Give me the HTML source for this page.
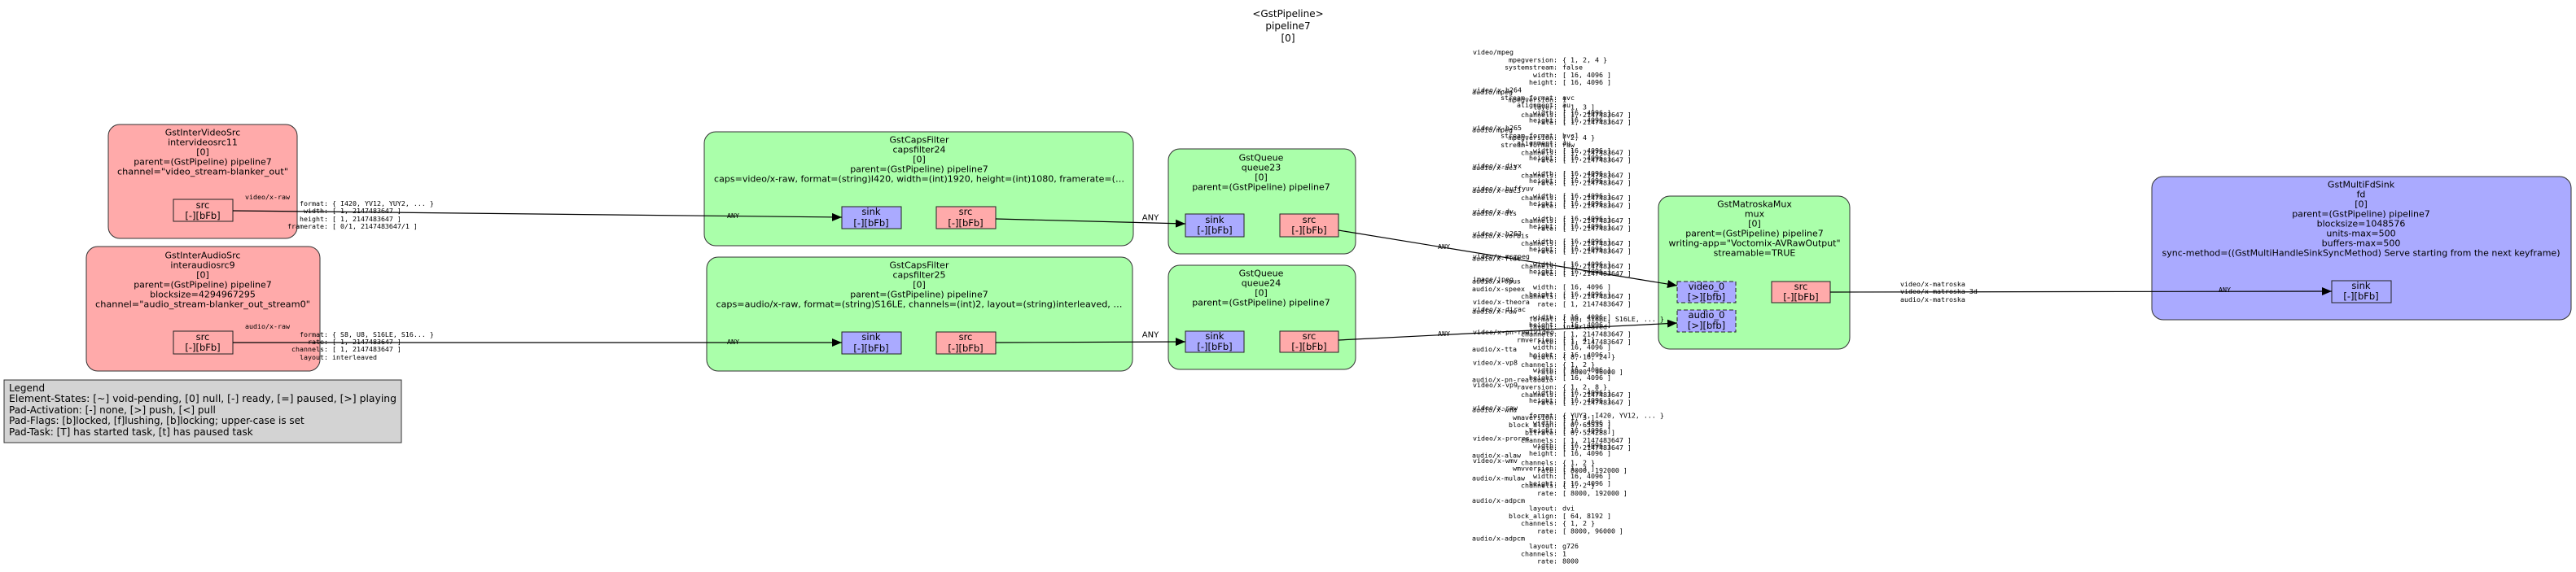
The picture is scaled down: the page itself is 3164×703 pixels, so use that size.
<!DOCTYPE html>
<html><head><meta charset="utf-8"><style>
html,body{margin:0;padding:0;background:#fff;}
svg{display:block;}
.t{font-family:"DejaVu Sans","Liberation Sans",sans-serif;font-size:11px;fill:#000;text-anchor:middle;dominant-baseline:central;}
.p{font-family:"DejaVu Sans","Liberation Sans",sans-serif;font-size:11.5px;fill:#000;text-anchor:middle;dominant-baseline:central;}
.lg{font-family:"DejaVu Sans","Liberation Sans",sans-serif;font-size:12px;fill:#000;dominant-baseline:central;}
.m{font-family:"DejaVu Sans Mono","Liberation Mono",monospace;font-size:8.3px;fill:#000;dominant-baseline:central;}
.k{font-family:"DejaVu Sans Mono","Liberation Mono",monospace;font-size:8.3px;fill:#000;dominant-baseline:central;text-anchor:end;}
.a{font-family:"DejaVu Sans","Liberation Sans",sans-serif;font-size:10px;fill:#000;text-anchor:middle;dominant-baseline:central;}
</style></head><body>
<svg width="3164" height="703" viewBox="0 0 3164 703" xmlns="http://www.w3.org/2000/svg">
<defs><marker id="ar" markerWidth="12" markerHeight="10" refX="12" refY="5" orient="auto" markerUnits="userSpaceOnUse"><path d="M0,0 L12,5 L0,10 z" fill="#000"/></marker></defs>

<!-- title -->
<text class="t" style="font-size:12px" x="1582" y="17">&lt;GstPipeline&gt;</text>
<text class="t" style="font-size:12px" x="1582" y="32">pipeline7</text>
<text class="t" style="font-size:12px" x="1582" y="47">[0]</text>

<!-- GstInterVideoSrc -->
<rect x="133" y="153" width="232" height="140" rx="14" fill="#ffaaaa" stroke="#333"/>
<text class="t" x="249" y="163">GstInterVideoSrc</text>
<text class="t" x="249" y="175">intervideosrc11</text>
<text class="t" x="249" y="187">[0]</text>
<text class="t" x="249" y="199">parent=(GstPipeline) pipeline7</text>
<text class="t" x="249" y="211" textLength="210" lengthAdjust="spacingAndGlyphs">channel="video_stream-blanker_out"</text>
<rect x="213" y="245" width="73" height="27" fill="#ffaaaa" stroke="#222"/>
<text class="p" x="249" y="252">src</text>
<text class="p" x="249" y="265">[-][bFb]</text>

<!-- GstInterAudioSrc -->
<rect x="106" y="303" width="287" height="153" rx="14" fill="#ffaaaa" stroke="#333"/>
<text class="t" x="249" y="314">GstInterAudioSrc</text>
<text class="t" x="249" y="326">interaudiosrc9</text>
<text class="t" x="249" y="338">[0]</text>
<text class="t" x="249" y="350">parent=(GstPipeline) pipeline7</text>
<text class="t" x="249" y="362">blocksize=4294967295</text>
<text class="t" x="249" y="374" textLength="264" lengthAdjust="spacingAndGlyphs">channel="audio_stream-blanker_out_stream0"</text>
<rect x="213" y="407" width="73" height="28" fill="#ffaaaa" stroke="#222"/>
<text class="p" x="249" y="414">src</text>
<text class="p" x="249" y="427">[-][bFb]</text>

<!-- Legend -->
<rect x="5" y="467" width="488" height="77" fill="#d3d3d3" stroke="#333"/>
<text class="lg" x="11" y="477">Legend</text>
<text class="lg" x="11" y="490" textLength="476" lengthAdjust="spacingAndGlyphs">Element-States: [~] void-pending, [0] null, [-] ready, [=] paused, [&gt;] playing</text>
<text class="lg" x="11" y="504">Pad-Activation: [-] none, [&gt;] push, [&lt;] pull</text>
<text class="lg" x="11" y="517">Pad-Flags: [b]locked, [f]lushing, [b]locking; upper-case is set</text>
<text class="lg" x="11" y="531">Pad-Task: [T] has started task, [t] has paused task</text>

<!-- capsfilter24 -->
<rect x="865" y="162" width="527" height="140" rx="14" fill="#aaffaa" stroke="#333"/>
<text class="t" x="1129" y="172">GstCapsFilter</text>
<text class="t" x="1129" y="184">capsfilter24</text>
<text class="t" x="1129" y="196">[0]</text>
<text class="t" x="1129" y="208">parent=(GstPipeline) pipeline7</text>
<text class="t" x="1129" y="220" textLength="504" lengthAdjust="spacingAndGlyphs">caps=video/x-raw, format=(string)I420, width=(int)1920, height=(int)1080, framerate=(…</text>
<rect x="1034" y="254" width="73" height="27" fill="#aaaaff" stroke="#222"/>
<text class="p" x="1070" y="260">sink</text>
<text class="p" x="1070" y="274">[-][bFb]</text>
<rect x="1150" y="254" width="73" height="27" fill="#ffaaaa" stroke="#222"/>
<text class="p" x="1186" y="260">src</text>
<text class="p" x="1186" y="274">[-][bFb]</text>

<!-- capsfilter25 -->
<rect x="868" y="316" width="523" height="140" rx="14" fill="#aaffaa" stroke="#333"/>
<text class="t" x="1129" y="326">GstCapsFilter</text>
<text class="t" x="1129" y="338">capsfilter25</text>
<text class="t" x="1129" y="350">[0]</text>
<text class="t" x="1129" y="362">parent=(GstPipeline) pipeline7</text>
<text class="t" x="1129" y="374" textLength="499" lengthAdjust="spacingAndGlyphs">caps=audio/x-raw, format=(string)S16LE, channels=(int)2, layout=(string)interleaved, …</text>
<rect x="1034" y="408" width="73" height="27" fill="#aaaaff" stroke="#222"/>
<text class="p" x="1070" y="414">sink</text>
<text class="p" x="1070" y="428">[-][bFb]</text>
<rect x="1150" y="408" width="73" height="27" fill="#ffaaaa" stroke="#222"/>
<text class="p" x="1186" y="414">src</text>
<text class="p" x="1186" y="428">[-][bFb]</text>

<!-- queue23 -->
<rect x="1435" y="183" width="230" height="129" rx="14" fill="#aaffaa" stroke="#333"/>
<text class="t" x="1549" y="194">GstQueue</text>
<text class="t" x="1549" y="206">queue23</text>
<text class="t" x="1549" y="218">[0]</text>
<text class="t" x="1549" y="230">parent=(GstPipeline) pipeline7</text>
<rect x="1456" y="263" width="72" height="28" fill="#aaaaff" stroke="#222"/>
<text class="p" x="1492" y="270">sink</text>
<text class="p" x="1492" y="283">[-][bFb]</text>
<rect x="1572" y="263" width="72" height="28" fill="#ffaaaa" stroke="#222"/>
<text class="p" x="1608" y="270">src</text>
<text class="p" x="1608" y="283">[-][bFb]</text>

<!-- queue24 -->
<rect x="1435" y="326" width="230" height="128" rx="14" fill="#aaffaa" stroke="#333"/>
<text class="t" x="1549" y="336">GstQueue</text>
<text class="t" x="1549" y="348">queue24</text>
<text class="t" x="1549" y="360">[0]</text>
<text class="t" x="1549" y="372">parent=(GstPipeline) pipeline7</text>
<rect x="1456" y="407" width="72" height="26" fill="#aaaaff" stroke="#222"/>
<text class="p" x="1492" y="413">sink</text>
<text class="p" x="1492" y="426">[-][bFb]</text>
<rect x="1572" y="407" width="72" height="26" fill="#ffaaaa" stroke="#222"/>
<text class="p" x="1608" y="413">src</text>
<text class="p" x="1608" y="426">[-][bFb]</text>

<!-- mux -->
<rect x="2037" y="241" width="235" height="188" rx="14" fill="#aaffaa" stroke="#333"/>
<text class="t" x="2155" y="251">GstMatroskaMux</text>
<text class="t" x="2155" y="263">mux</text>
<text class="t" x="2155" y="275">[0]</text>
<text class="t" x="2155" y="287">parent=(GstPipeline) pipeline7</text>
<text class="t" x="2155" y="299" textLength="211" lengthAdjust="spacingAndGlyphs">writing-app="Voctomix-AVRawOutput"</text>
<text class="t" x="2155" y="311">streamable=TRUE</text>
<rect x="2060" y="346" width="72" height="26" fill="#aaaaff" stroke="#222" stroke-dasharray="5,3"/>
<text class="p" x="2096" y="352">video_0</text>
<text class="p" x="2096" y="365">[&gt;][bfb]</text>
<rect x="2060" y="381" width="72" height="27" fill="#aaaaff" stroke="#222" stroke-dasharray="5,3"/>
<text class="p" x="2096" y="387">audio_0</text>
<text class="p" x="2096" y="400">[&gt;][bfb]</text>
<rect x="2176" y="346" width="72" height="26" fill="#ffaaaa" stroke="#222"/>
<text class="p" x="2212" y="352">src</text>
<text class="p" x="2212" y="365">[-][bFb]</text>

<!-- fdsink -->
<rect x="2643" y="217" width="515" height="176" rx="14" fill="#aaaaff" stroke="#333"/>
<text class="t" x="2900" y="227">GstMultiFdSink</text>
<text class="t" x="2900" y="239">fd</text>
<text class="t" x="2900" y="251">[0]</text>
<text class="t" x="2900" y="263">parent=(GstPipeline) pipeline7</text>
<text class="t" x="2900" y="275">blocksize=1048576</text>
<text class="t" x="2900" y="287">units-max=500</text>
<text class="t" x="2900" y="299">buffers-max=500</text>
<text class="t" x="2900" y="311" textLength="489" lengthAdjust="spacingAndGlyphs">sync-method=((GstMultiHandleSinkSyncMethod) Serve starting from the next keyframe)</text>
<rect x="2864" y="345" width="73" height="27" fill="#aaaaff" stroke="#222"/>
<text class="p" x="2900" y="351">sink</text>
<text class="p" x="2900" y="364">[-][bFb]</text>

<!-- edges -->
<g stroke="#000" stroke-width="1.2" fill="none">
<line x1="286" y1="259" x2="1034" y2="267" marker-end="url(#ar)"/>
<line x1="286" y1="421" x2="1034" y2="421" marker-end="url(#ar)"/>
<line x1="1223" y1="269" x2="1456" y2="275" marker-end="url(#ar)"/>
<line x1="1223" y1="421" x2="1456" y2="420" marker-end="url(#ar)"/>
<line x1="1644" y1="283" x2="2060" y2="351" marker-end="url(#ar)"/>
<line x1="1644" y1="418" x2="2060" y2="397" marker-end="url(#ar)"/>
<line x1="2248" y1="359" x2="2864" y2="358" marker-end="url(#ar)"/>
</g>

<!-- edge labels -->
<text class="k" x="356" y="242">video/x-raw</text>
<text class="k" x="403" y="250">format:</text><text class="m" x="408" y="250">{ I420, YV12, YUY2, ... }</text>
<text class="k" x="403" y="259">width:</text><text class="m" x="408" y="259">[ 1, 2147483647 ]</text>
<text class="k" x="403" y="269">height:</text><text class="m" x="408" y="269">[ 1, 2147483647 ]</text>
<text class="k" x="403" y="278">framerate:</text><text class="m" x="408" y="278">[ 0/1, 2147483647/1 ]</text>

<text class="k" x="356" y="401">audio/x-raw</text>
<text class="k" x="403" y="411">format:</text><text class="m" x="408" y="411">{ S8, U8, S16LE, S16... }</text>
<text class="k" x="403" y="420">rate:</text><text class="m" x="408" y="420">[ 1, 2147483647 ]</text>
<text class="k" x="403" y="429">channels:</text><text class="m" x="408" y="429">[ 1, 2147483647 ]</text>
<text class="k" x="403" y="439">layout:</text><text class="m" x="408" y="439">interleaved</text>

<text class="m" x="893" y="265">ANY</text>
<text class="m" x="893" y="420">ANY</text>
<text class="a" x="1413" y="268">ANY</text>
<text class="a" x="1413" y="412">ANY</text>
<text class="m" x="1766" y="303">ANY</text>
<text class="m" x="1766" y="410">ANY</text>
<text class="m" x="2725" y="356">ANY</text>
<text class="m" x="2334" y="349">video/x-matroska</text>
<text class="m" x="2334" y="358">video/x-matroska-3d</text>
<text class="m" x="2334" y="368">audio/x-matroska</text>

<!-- video caps column -->
<g>
<text class="m" x="1809" y="64">video/mpeg</text>
<text class="k" x="1913" y="73.3">mpegversion:</text><text class="m" x="1919" y="73.3">{ 1, 2, 4 }</text>
<text class="k" x="1913" y="82.6">systemstream:</text><text class="m" x="1919" y="82.6">false</text>
<text class="k" x="1913" y="91.9">width:</text><text class="m" x="1919" y="91.9">[ 16, 4096 ]</text>
<text class="k" x="1913" y="101.2">height:</text><text class="m" x="1919" y="101.2">[ 16, 4096 ]</text>
<text class="m" x="1809" y="110.5">video/x-h264</text>
<text class="k" x="1913" y="119.8">stream-format:</text><text class="m" x="1919" y="119.8">avc</text>
<text class="k" x="1913" y="129.1">alignment:</text><text class="m" x="1919" y="129.1">au</text>
<text class="k" x="1913" y="138.4">width:</text><text class="m" x="1919" y="138.4">[ 16, 4096 ]</text>
<text class="k" x="1913" y="147.7">height:</text><text class="m" x="1919" y="147.7">[ 16, 4096 ]</text>
<text class="m" x="1809" y="157">video/x-h265</text>
<text class="k" x="1913" y="166.3">stream-format:</text><text class="m" x="1919" y="166.3">hvc1</text>
<text class="k" x="1913" y="175.6">alignment:</text><text class="m" x="1919" y="175.6">au</text>
<text class="k" x="1913" y="184.9">width:</text><text class="m" x="1919" y="184.9">[ 16, 4096 ]</text>
<text class="k" x="1913" y="194.2">height:</text><text class="m" x="1919" y="194.2">[ 16, 4096 ]</text>
<text class="m" x="1809" y="203.5">video/x-divx</text>
<text class="k" x="1913" y="212.8">width:</text><text class="m" x="1919" y="212.8">[ 16, 4096 ]</text>
<text class="k" x="1913" y="222.1">height:</text><text class="m" x="1919" y="222.1">[ 16, 4096 ]</text>
<text class="m" x="1809" y="231.4">video/x-huffyuv</text>
<text class="k" x="1913" y="240.7">width:</text><text class="m" x="1919" y="240.7">[ 16, 4096 ]</text>
<text class="k" x="1913" y="250">height:</text><text class="m" x="1919" y="250">[ 16, 4096 ]</text>
<text class="m" x="1809" y="259.3">video/x-dv</text>
<text class="k" x="1913" y="268.6">width:</text><text class="m" x="1919" y="268.6">[ 16, 4096 ]</text>
<text class="k" x="1913" y="277.9">height:</text><text class="m" x="1919" y="277.9">[ 16, 4096 ]</text>
<text class="m" x="1809" y="287.2">video/x-h263</text>
<text class="k" x="1913" y="296.5">width:</text><text class="m" x="1919" y="296.5">[ 16, 4096 ]</text>
<text class="k" x="1913" y="305.8">height:</text><text class="m" x="1919" y="305.8">[ 16, 4096 ]</text>
<text class="m" x="1809" y="315.1">video/x-msmpeg</text>
<text class="k" x="1913" y="324.4">width:</text><text class="m" x="1919" y="324.4">[ 16, 4096 ]</text>
<text class="k" x="1913" y="333.7">height:</text><text class="m" x="1919" y="333.7">[ 16, 4096 ]</text>
<text class="m" x="1809" y="343">image/jpeg</text>
<text class="k" x="1913" y="352.3">width:</text><text class="m" x="1919" y="352.3">[ 16, 4096 ]</text>
<text class="k" x="1913" y="361.6">height:</text><text class="m" x="1919" y="361.6">[ 16, 4096 ]</text>
<text class="m" x="1809" y="370.9">video/x-theora</text>
<text class="m" x="1809" y="380.2">video/x-dirac</text>
<text class="k" x="1913" y="389.5">width:</text><text class="m" x="1919" y="389.5">[ 16, 4096 ]</text>
<text class="k" x="1913" y="398.8">height:</text><text class="m" x="1919" y="398.8">[ 16, 4096 ]</text>
<text class="m" x="1809" y="408.1">video/x-pn-realvideo</text>
<text class="k" x="1913" y="417.4">rmversion:</text><text class="m" x="1919" y="417.4">[ 1, 4 ]</text>
<text class="k" x="1913" y="426.7">width:</text><text class="m" x="1919" y="426.7">[ 16, 4096 ]</text>
<text class="k" x="1913" y="436">height:</text><text class="m" x="1919" y="436">[ 16, 4096 ]</text>
<text class="m" x="1809" y="445.3">video/x-vp8</text>
<text class="k" x="1913" y="454.6">width:</text><text class="m" x="1919" y="454.6">[ 16, 4096 ]</text>
<text class="k" x="1913" y="463.9">height:</text><text class="m" x="1919" y="463.9">[ 16, 4096 ]</text>
<text class="m" x="1809" y="473.2">video/x-vp9</text>
<text class="k" x="1913" y="482.5">width:</text><text class="m" x="1919" y="482.5">[ 16, 4096 ]</text>
<text class="k" x="1913" y="491.8">height:</text><text class="m" x="1919" y="491.8">[ 16, 4096 ]</text>
<text class="m" x="1809" y="501.1">video/x-raw</text>
<text class="k" x="1913" y="510.4">format:</text><text class="m" x="1919" y="510.4">{ YUY2, I420, YV12, ... }</text>
<text class="k" x="1913" y="519.7">width:</text><text class="m" x="1919" y="519.7">[ 16, 4096 ]</text>
<text class="k" x="1913" y="529">height:</text><text class="m" x="1919" y="529">[ 16, 4096 ]</text>
<text class="m" x="1809" y="538.3">video/x-prores</text>
<text class="k" x="1913" y="547.6">width:</text><text class="m" x="1919" y="547.6">[ 16, 4096 ]</text>
<text class="k" x="1913" y="556.9">height:</text><text class="m" x="1919" y="556.9">[ 16, 4096 ]</text>
<text class="m" x="1809" y="566.2">video/x-wmv</text>
<text class="k" x="1913" y="575.5">wmvversion:</text><text class="m" x="1919" y="575.5">[ 1, 3 ]</text>
<text class="k" x="1913" y="584.8">width:</text><text class="m" x="1919" y="584.8">[ 16, 4096 ]</text>
<text class="k" x="1913" y="594.1">height:</text><text class="m" x="1919" y="594.1">[ 16, 4096 ]</text>
</g>

<!-- audio caps column -->
<g>
<text class="m" x="1808" y="113">audio/mpeg</text>
<text class="k" x="1913" y="122.3">mpegversion:</text><text class="m" x="1919" y="122.3">1</text>
<text class="k" x="1913" y="131.6">layer:</text><text class="m" x="1919" y="131.6">[ 1, 3 ]</text>
<text class="k" x="1913" y="140.9">channels:</text><text class="m" x="1919" y="140.9">[ 1, 2147483647 ]</text>
<text class="k" x="1913" y="150.2">rate:</text><text class="m" x="1919" y="150.2">[ 1, 2147483647 ]</text>
<text class="m" x="1808" y="159.5">audio/mpeg</text>
<text class="k" x="1913" y="168.8">mpegversion:</text><text class="m" x="1919" y="168.8">{ 2, 4 }</text>
<text class="k" x="1913" y="178.1">stream-format:</text><text class="m" x="1919" y="178.1">raw</text>
<text class="k" x="1913" y="187.4">channels:</text><text class="m" x="1919" y="187.4">[ 1, 2147483647 ]</text>
<text class="k" x="1913" y="196.7">rate:</text><text class="m" x="1919" y="196.7">[ 1, 2147483647 ]</text>
<text class="m" x="1808" y="206">audio/x-ac3</text>
<text class="k" x="1913" y="215.3">channels:</text><text class="m" x="1919" y="215.3">[ 1, 2147483647 ]</text>
<text class="k" x="1913" y="224.6">rate:</text><text class="m" x="1919" y="224.6">[ 1, 2147483647 ]</text>
<text class="m" x="1808" y="233.9">audio/x-eac3</text>
<text class="k" x="1913" y="243.2">channels:</text><text class="m" x="1919" y="243.2">[ 1, 2147483647 ]</text>
<text class="k" x="1913" y="252.5">rate:</text><text class="m" x="1919" y="252.5">[ 1, 2147483647 ]</text>
<text class="m" x="1808" y="261.8">audio/x-dts</text>
<text class="k" x="1913" y="271.1">channels:</text><text class="m" x="1919" y="271.1">[ 1, 2147483647 ]</text>
<text class="k" x="1913" y="280.4">rate:</text><text class="m" x="1919" y="280.4">[ 1, 2147483647 ]</text>
<text class="m" x="1808" y="289.7">audio/x-vorbis</text>
<text class="k" x="1913" y="299">channels:</text><text class="m" x="1919" y="299">[ 1, 2147483647 ]</text>
<text class="k" x="1913" y="308.3">rate:</text><text class="m" x="1919" y="308.3">[ 1, 2147483647 ]</text>
<text class="m" x="1808" y="317.6">audio/x-flac</text>
<text class="k" x="1913" y="326.9">channels:</text><text class="m" x="1919" y="326.9">[ 1, 2147483647 ]</text>
<text class="k" x="1913" y="336.2">rate:</text><text class="m" x="1919" y="336.2">[ 1, 2147483647 ]</text>
<text class="m" x="1808" y="345.5">audio/x-opus</text>
<text class="m" x="1808" y="354.8">audio/x-speex</text>
<text class="k" x="1913" y="364.1">channels:</text><text class="m" x="1919" y="364.1">[ 1, 2147483647 ]</text>
<text class="k" x="1913" y="373.4">rate:</text><text class="m" x="1919" y="373.4">[ 1, 2147483647 ]</text>
<text class="m" x="1808" y="382.7">audio/x-raw</text>
<text class="k" x="1913" y="392">format:</text><text class="m" x="1919" y="392">{ U8, S16BE, S16LE, ... }</text>
<text class="k" x="1913" y="401.3">layout:</text><text class="m" x="1919" y="401.3">interleaved</text>
<text class="k" x="1913" y="410.6">channels:</text><text class="m" x="1919" y="410.6">[ 1, 2147483647 ]</text>
<text class="k" x="1913" y="419.9">rate:</text><text class="m" x="1919" y="419.9">[ 1, 2147483647 ]</text>
<text class="m" x="1808" y="429.2">audio/x-tta</text>
<text class="k" x="1913" y="438.5">width:</text><text class="m" x="1919" y="438.5">{ 8, 16, 24 }</text>
<text class="k" x="1913" y="447.8">channels:</text><text class="m" x="1919" y="447.8">{ 1, 2 }</text>
<text class="k" x="1913" y="457.1">rate:</text><text class="m" x="1919" y="457.1">[ 8000, 96000 ]</text>
<text class="m" x="1808" y="466.4">audio/x-pn-realaudio</text>
<text class="k" x="1913" y="475.7">raversion:</text><text class="m" x="1919" y="475.7">{ 1, 2, 8 }</text>
<text class="k" x="1913" y="485">channels:</text><text class="m" x="1919" y="485">[ 1, 2147483647 ]</text>
<text class="k" x="1913" y="494.3">rate:</text><text class="m" x="1919" y="494.3">[ 1, 2147483647 ]</text>
<text class="m" x="1808" y="503.6">audio/x-wma</text>
<text class="k" x="1913" y="512.9">wmaversion:</text><text class="m" x="1919" y="512.9">[ 1, 3 ]</text>
<text class="k" x="1913" y="522.2">block_align:</text><text class="m" x="1919" y="522.2">[ 0, 65535 ]</text>
<text class="k" x="1913" y="531.5">bitrate:</text><text class="m" x="1919" y="531.5">[ 0, 524288 ]</text>
<text class="k" x="1913" y="540.8">channels:</text><text class="m" x="1919" y="540.8">[ 1, 2147483647 ]</text>
<text class="k" x="1913" y="550.1">rate:</text><text class="m" x="1919" y="550.1">[ 1, 2147483647 ]</text>
<text class="m" x="1808" y="559.4">audio/x-alaw</text>
<text class="k" x="1913" y="568.7">channels:</text><text class="m" x="1919" y="568.7">{ 1, 2 }</text>
<text class="k" x="1913" y="578">rate:</text><text class="m" x="1919" y="578">[ 8000, 192000 ]</text>
<text class="m" x="1808" y="587.3">audio/x-mulaw</text>
<text class="k" x="1913" y="596.6">channels:</text><text class="m" x="1919" y="596.6">{ 1, 2 }</text>
<text class="k" x="1913" y="605.9">rate:</text><text class="m" x="1919" y="605.9">[ 8000, 192000 ]</text>
<text class="m" x="1808" y="615.2">audio/x-adpcm</text>
<text class="k" x="1913" y="624.5">layout:</text><text class="m" x="1919" y="624.5">dvi</text>
<text class="k" x="1913" y="633.8">block_align:</text><text class="m" x="1919" y="633.8">[ 64, 8192 ]</text>
<text class="k" x="1913" y="643.1">channels:</text><text class="m" x="1919" y="643.1">{ 1, 2 }</text>
<text class="k" x="1913" y="652.4">rate:</text><text class="m" x="1919" y="652.4">[ 8000, 96000 ]</text>
<text class="m" x="1808" y="661.7">audio/x-adpcm</text>
<text class="k" x="1913" y="671">layout:</text><text class="m" x="1919" y="671">g726</text>
<text class="k" x="1913" y="680.3">channels:</text><text class="m" x="1919" y="680.3">1</text>
<text class="k" x="1913" y="689.6">rate:</text><text class="m" x="1919" y="689.6">8000</text>
</g>
</svg>
</body></html>
